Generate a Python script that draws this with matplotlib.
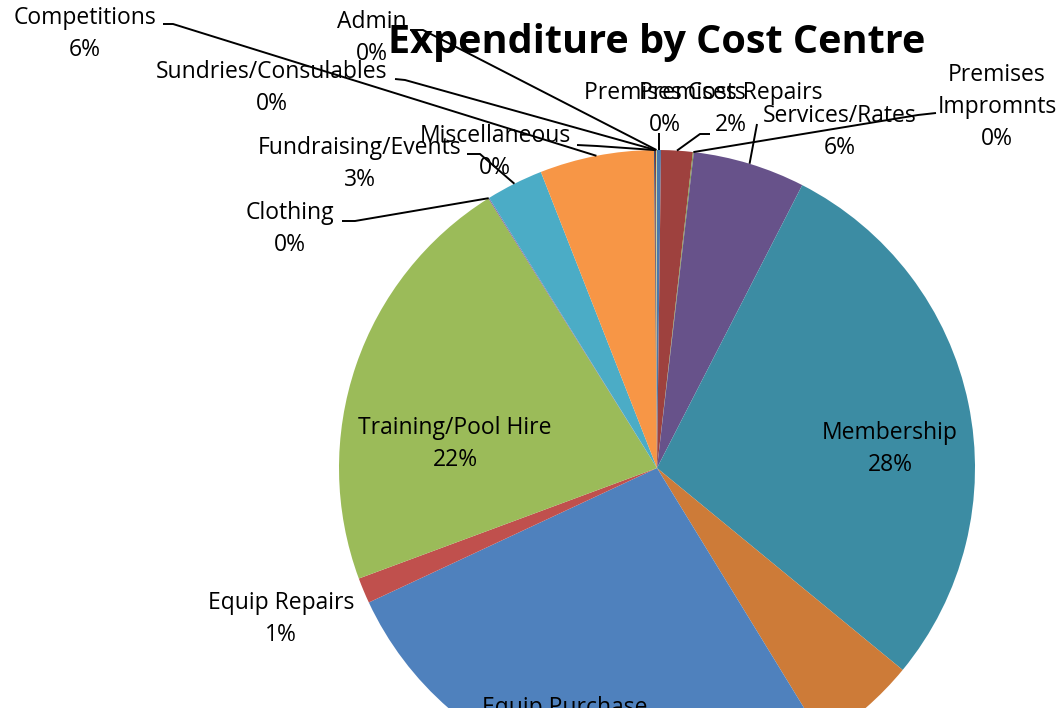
import numpy as np
import matplotlib
matplotlib.use("Agg")
import matplotlib.pyplot as plt

categories = ["Premises Costs", "Premises Repairs", "Premises Impromnts", "Services/Rates",
              "Membership", "Coaching", "Equip Purchase", "Equip Repairs", "Training/Pool Hire",
              "Clothing", "Fundraising/Events", "Competitions", "Miscellaneous",
              "Sundries/Consulables", "Admin"]
values = [0.2, 1.6, 0.05, 5.7, 28.4, 5.3, 26.8, 1.3, 21.75, 0.05, 2.9, 5.8, 0.05, 0.05, 0.05]
colors = ["#4A78AD", "#9E413E", "#7E9A48", "#67528A", "#3C8CA3", "#CD7B38", "#4F81BD",
          "#C0504D", "#9BBB59", "#8064A2", "#4BACC6", "#F79646", "#2C4D75", "#772C2A", "#C3D69B"]
title = "Expenditure by Cost Centre"

W, H = 1063, 708
plt.rcParams['font.family'] = ['Open Sans', 'DejaVu Sans']
fig = plt.figure(figsize=(W / 100, H / 100), dpi=100)
ax = fig.add_axes([0, 0, 1, 1])
ax.set_xlim(0, W)
ax.set_ylim(0, H)
ax.axis('off')

cx, cy, R = 657, H - 468, 318
wedges, _ = ax.pie(values, colors=colors, startangle=90, counterclock=False,
                   center=(cx, cy), radius=R, wedgeprops=dict(linewidth=0))
ax.set_xlim(0, W)
ax.set_ylim(0, H)
ax.set_aspect('equal')

total = sum(values)
pcts = [f"{round(v / total * 100):d}%" for v in values]

# label layout: (line-centre x, first-line y in pixels from top), leader points from label side
layout = {
    "Premises Costs": ((665, 93), [(659, 133)]),
    "Premises Repairs": ((731, 93), [(710, 134), (700, 134)]),
    "Premises Impromnts": ((997, 75), [(936, 113), (918, 115)]),
    "Services/Rates": ((840, 116), [(757, 124)]),
    "Membership": ((890, 433), None),
    "Coaching": (None, None),
    "Equip Purchase": ((565, 708), None),
    "Equip Repairs": ((281, 603), None),
    "Training/Pool Hire": ((455, 428), None),
    "Clothing": ((290, 213), [(342, 221), (355, 221)]),
    "Fundraising/Events": ((360, 148), [(467, 154), (480, 154)]),
    "Competitions": ((85, 18), [(163, 24), (173, 24)]),
    "Miscellaneous": ((495, 136), [(577, 145), (597, 146)]),
    "Sundries/Consulables": ((272, 72), [(395, 79), (405, 80)]),
    "Admin": ((372, 22), [(410, 30), (423, 30)]),
}
LS = 32
fs = 16.5
for w, cat, p in zip(wedges, categories, pcts):
    pos, leader = layout[cat]
    if pos is None:
        continue
    lx, ly = pos
    lines = cat.split(" ") if cat == "Premises Impromnts" else [cat]
    lines = lines + [p]
    for i, t in enumerate(lines):
        ax.text(lx, H - (ly + i * LS), t, ha='center', va='center', fontsize=fs,
                color='black', clip_on=True)
    if leader:
        mid = np.deg2rad((w.theta1 + w.theta2) / 2)
        ex, ey = cx + R * np.cos(mid), cy + R * np.sin(mid)
        xs = [pt[0] for pt in leader] + [ex]
        ys = [H - pt[1] for pt in leader] + [ey]
        ax.plot(xs, ys, color='black', lw=1.4, solid_capstyle='butt')

ax.text(657, H - 42, title, ha='center', va='center', fontsize=28.5, fontweight='bold')

fig.savefig("out.png", dpi=100)
